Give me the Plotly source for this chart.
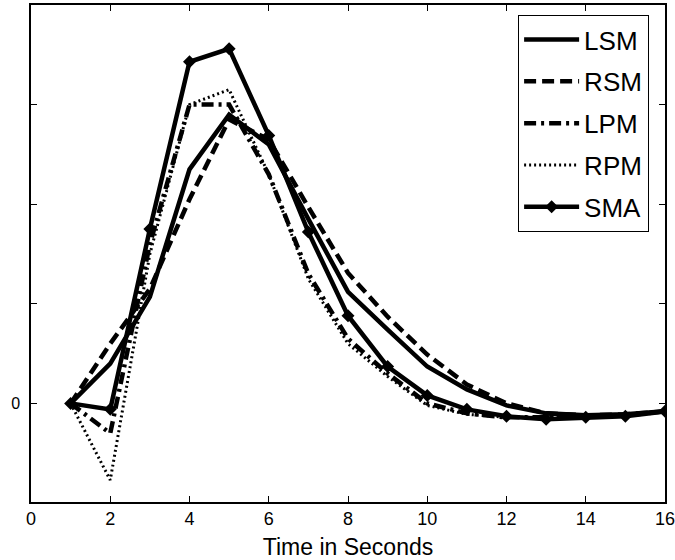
import plotly.graph_objects as go

time_s = list(range(1, 17))
lsm = [0, 0.4, 1.07, 2.35, 2.9, 2.6, 1.85, 1.12, 0.74, 0.37, 0.14, -0.02, -0.1, -0.12, -0.11, -0.08]
rsm = [0, 0.6, 1.15, 2.05, 2.85, 2.65, 1.97, 1.31, 0.87, 0.49, 0.19, 0.0, -0.1, -0.12, -0.11, -0.08]
lpm = [0, -0.3, 1.6, 3.0, 3.0, 2.3, 1.3, 0.65, 0.3, 0.0, -0.1, -0.14, -0.14, -0.13, -0.12, -0.08]
rpm = [0, -0.77, 1.5, 3.0, 3.15, 2.3, 1.25, 0.6, 0.27, -0.02, -0.11, -0.14, -0.14, -0.13, -0.12, -0.08]
sma = [0, -0.06, 1.75, 3.43, 3.56, 2.69, 1.72, 0.88, 0.37, 0.08, -0.06, -0.13, -0.16, -0.14, -0.13, -0.08]

x_ticks = list(range(0, 17, 2))
y_ticks = [0, 1, 2, 3]
y_tick_text = ["0", "", "", ""]

FONT = "Liberation Sans, Arial, sans-serif"

fig = go.Figure()
series = [
    ("LSM", lsm, dict(color="black", width=4.5, dash="solid"), None),
    ("RSM", rsm, dict(color="black", width=4.5, dash="12px,6px"), None),
    ("LPM", lpm, dict(color="black", width=4.5, dash="12px,5px,3px,5px"), None),
    ("RPM", rpm, dict(color="black", width=3, dash="2px,3px"), None),
    ("SMA", sma, dict(color="black", width=4.5, dash="solid"), dict(symbol="diamond", size=10, color="black")),
]
for name, vals, line, marker in series:
    fig.add_trace(go.Scatter(
        x=time_s, y=vals, name=name, legendgroup=name,
        mode="lines+markers" if marker else "lines",
        line=line, marker=marker,
    ))

fig.update_layout(
    width=675, height=560,
    margin=dict(l=31, r=10, t=5, b=58, autoexpand=False),
    paper_bgcolor="white", plot_bgcolor="white",
    font=dict(family=FONT, color="black", size=18),
    showlegend=True,
    legend=dict(
        x=0.768, y=0.98, xanchor="left", yanchor="top",
        bgcolor="white", bordercolor="black", borderwidth=1.2,
        font=dict(size=26, family=FONT),
        itemwidth=55,
        traceorder="grouped", tracegroupgap=5,
    ),
)
fig.update_xaxes(
    range=[0, 16], tickvals=x_ticks, ticktext=[str(v) for v in x_ticks],
    automargin=False, ticklabeloverflow="allow",
    showgrid=False, zeroline=False,
    showline=True, linecolor="black", linewidth=1.5, mirror="ticks",
    ticks="inside", ticklen=6, tickwidth=1.3, tickcolor="black",
    tickfont=dict(size=18),
    title=dict(text="Time in Seconds", font=dict(size=23), standoff=11),
)
fig.update_yaxes(
    range=[-0.99, 4.0], tickvals=y_ticks, ticktext=y_tick_text,
    automargin=False,
    showgrid=False, zeroline=False,
    showline=True, linecolor="black", linewidth=1.5, mirror="ticks",
    ticks="inside", ticklen=6, tickwidth=1.3, tickcolor="black",
    tickfont=dict(size=16), ticklabelstandoff=6,
)

fig.write_html("out.html", config={"displayModeBar": False},
               post_script="document.body.style.margin='0';")
